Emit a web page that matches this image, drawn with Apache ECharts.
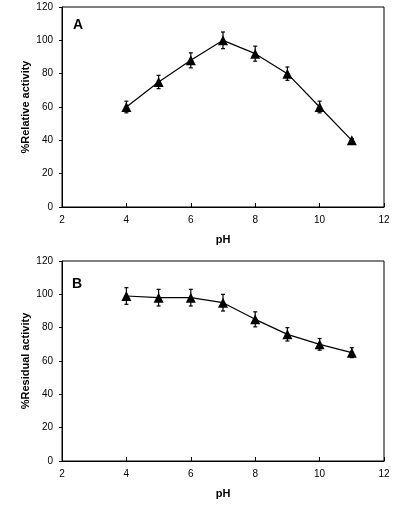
<!DOCTYPE html>
<html><head><meta charset="utf-8">
<script src="https://cdn.jsdelivr.net/npm/echarts@6/dist/echarts.min.js"></script>
<style>html,body{margin:0;padding:0;background:#fff}#c{width:401px;height:509px}</style>
</head><body><div id="c"></div>
<script>
var pH = [4, 5, 6, 7, 8, 9, 10, 11];
var relActivity = [60, 75, 88, 100, 92, 80, 60, 40];
var relError = [3.5, 4, 4.5, 5, 4.5, 4, 3.5, 1];
var resActivity = [99, 98, 98, 95, 85, 76, 70, 65];
var resError = [5, 5, 5, 5, 4.5, 4, 3.5, 3];
var xTicks = [2, 4, 6, 8, 10, 12];
var yTicks = [0, 20, 40, 60, 80, 100, 120];

function pts(xs, ys) { return xs.map(function (x, i) { return [x, ys[i]]; }); }
function errPts(xs, ys, es) { return xs.map(function (x, i) { return [x, ys[i] - es[i], ys[i] + es[i]]; }); }

function errRender(params, api) {
  var lo = api.coord([api.value(0), api.value(1)]);
  var hi = api.coord([api.value(0), api.value(2)]);
  var w = 2;
  var st = { stroke: '#000', lineWidth: 1.2 };
  return { type: 'group', children: [
    { type: 'line', shape: { x1: lo[0], y1: lo[1], x2: hi[0], y2: hi[1] }, style: st },
    { type: 'line', shape: { x1: lo[0] - w, y1: lo[1], x2: lo[0] + w, y2: lo[1] }, style: st },
    { type: 'line', shape: { x1: hi[0] - w, y1: hi[1], x2: hi[0] + w, y2: hi[1] }, style: st }
  ] };
}

var font = '"Liberation Sans", Arial, sans-serif';
function xAx(idx) {
  return { type: 'value', gridIndex: idx, min: xTicks[0], max: xTicks[xTicks.length - 1], interval: 2,
    name: 'pH', nameLocation: 'middle', nameGap: 27, nameMoveOverlap: false,
    nameTextStyle: { fontFamily: font, fontSize: 11, fontWeight: 'bold', color: '#000' },
    axisLine: { lineStyle: { color: '#000', width: 1 } },
    axisTick: { inside: true, length: 4, lineStyle: { color: '#000' } },
    axisLabel: { fontFamily: font, fontSize: 10, color: '#000', margin: 8 },
    splitLine: { show: false } };
}
function yAx(idx, name) {
  return { type: 'value', gridIndex: idx, min: yTicks[0], max: yTicks[yTicks.length - 1], interval: 20,
    name: name, nameLocation: 'middle', nameGap: 31, nameRotate: 90, nameMoveOverlap: false,
    nameTextStyle: { fontFamily: font, fontSize: 11, fontWeight: 'bold', color: '#000' },
    axisLine: { show: true, lineStyle: { color: '#000', width: 1 } },
    axisTick: { show: true, inside: false, length: 3, lineStyle: { color: '#000' } },
    axisLabel: { fontFamily: font, fontSize: 10, color: '#000', margin: 9 },
    splitLine: { show: false } };
}

var chart = echarts.init(document.getElementById('c'), null, { renderer: 'canvas' });
chart.setOption({
  animation: false,
  backgroundColor: '#fff',
  grid: [
    { left: 62, right: 17, top: 7, height: 200, show: true, borderColor: '#000', borderWidth: 1 },
    { left: 62, right: 17, top: 261, height: 200, show: true, borderColor: '#000', borderWidth: 1 }
  ],
  xAxis: [xAx(0), xAx(1)],
  yAxis: [yAx(0, '%Relative activity'), yAx(1, '%Residual activity')],
  graphic: [
    { type: 'text', left: 73, top: 18, style: { text: 'A', font: 'bold 14px ' + font, fill: '#000' } },
    { type: 'text', left: 72, top: 277, style: { text: 'B', font: 'bold 14px ' + font, fill: '#000' } }
  ],
  series: [
    { type: 'custom', xAxisIndex: 0, yAxisIndex: 0, renderItem: errRender, data: errPts(pH, relActivity, relError), z: 3 },
    { type: 'line', xAxisIndex: 0, yAxisIndex: 0, data: pts(pH, relActivity), symbol: 'triangle', symbolSize: 10,
      lineStyle: { color: '#000', width: 1.2 }, itemStyle: { color: '#000' }, z: 4 },
    { type: 'custom', xAxisIndex: 1, yAxisIndex: 1, renderItem: errRender, data: errPts(pH, resActivity, resError), z: 3 },
    { type: 'line', xAxisIndex: 1, yAxisIndex: 1, data: pts(pH, resActivity), symbol: 'triangle', symbolSize: 10,
      lineStyle: { color: '#000', width: 1.2 }, itemStyle: { color: '#000' }, z: 4 }
  ]
});
</script></body></html>
